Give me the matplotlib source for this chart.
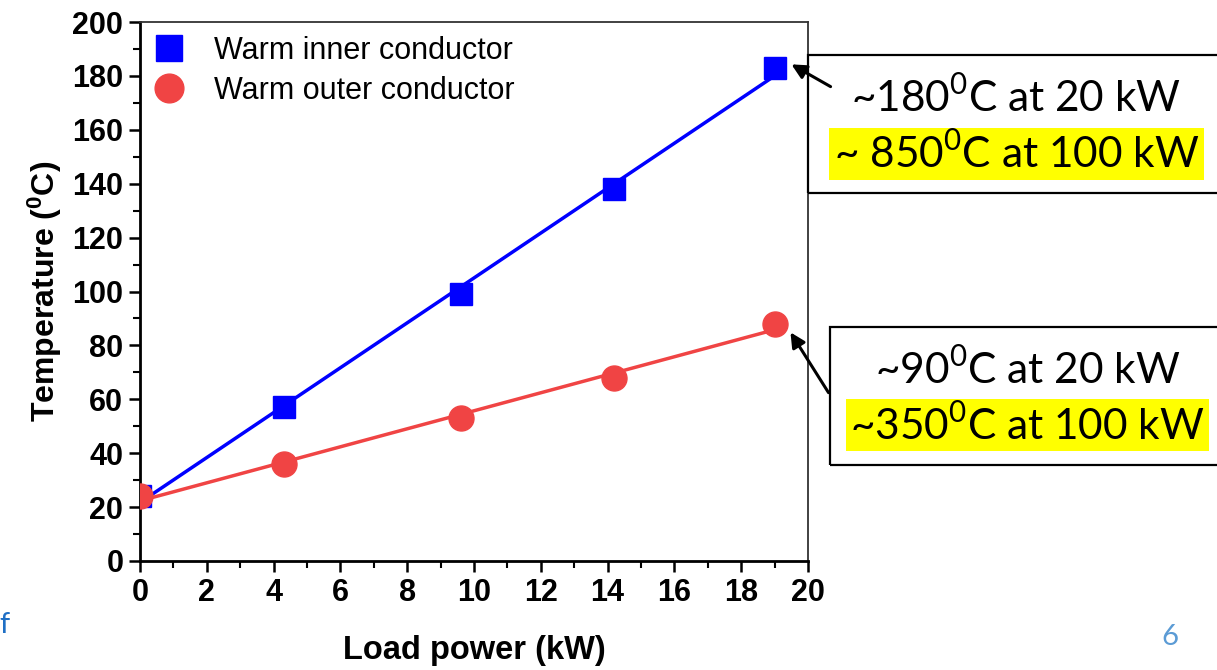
import matplotlib.pyplot as plt
import matplotlib.patches as patches
import numpy as np

plt.rcParams['font.family'] = ['Liberation Sans', 'DejaVu Sans']
plt.rcParams['mathtext.fontset'] = 'custom'
plt.rcParams['mathtext.rm'] = 'Lato'
plt.rcParams['mathtext.bf'] = 'Liberation Sans:bold'

# data
load_kw = [0, 4.3, 9.6, 14.2, 19]
inner_temp = [24, 57, 99, 138, 183]
outer_temp = [24, 36, 53, 68, 88]

inner_note = ["~180$^0$C at 20 kW", "~ 850$^0$C at 100 kW"]
outer_note = ["~90$^0$C at 20 kW", "~350$^0$C at 100 kW"]

blue = "#0000FF"
red = "#F04444"

fig = plt.figure(figsize=(12.17, 6.7), dpi=100)
ax = fig.add_axes([140 / 1217, 1 - 561 / 670, 668 / 1217, 539 / 670])

# linear fits drawn through the points
xs = np.array([min(load_kw), max(load_kw)])
for temps, c in [(inner_temp, blue), (outer_temp, red)]:
    k, b = np.polyfit(load_kw, temps, 1)
    ax.plot(xs, k * xs + b, color=c, lw=2.5, zorder=2)

ax.plot(load_kw, inner_temp, "s", color=blue, ms=16, label="Warm inner conductor", zorder=3)
ax.plot(load_kw, outer_temp, "o", color=red, ms=18, label="Warm outer conductor", zorder=3)

ax.set_xlim(0, 20)
ax.set_ylim(0, 200)
ax.set_xticks(np.arange(0, 21, 2))
ax.set_xticks(np.arange(1, 20, 2), minor=True)
ax.set_yticks(np.arange(0, 201, 20))
ax.set_yticks(np.arange(10, 200, 20), minor=True)
ax.tick_params(which="major", length=8, width=1.8, labelsize=22, pad=4)
ax.tick_params(which="minor", length=5, width=1.5)
for lab in ax.get_xticklabels() + ax.get_yticklabels():
    lab.set_fontweight("bold")
for s in ["left", "bottom"]:
    ax.spines[s].set_linewidth(2)
for s in ["top", "right"]:
    ax.spines[s].set_linewidth(1.3)
    ax.spines[s].set_color("#333333")

ax.set_xlabel("Load power (kW)", fontsize=23.5, fontweight="bold", labelpad=20)
ax.set_ylabel(r"Temperature ($\mathbf{^0}$C)", fontsize=23, fontweight="bold", labelpad=6)

ax.legend(loc="upper left", bbox_to_anchor=(-0.043, 1.025), frameon=False, fontsize=22,
          handletextpad=0.45, labelspacing=0.32, borderaxespad=0.5, markerscale=1.15)


def fx(px):
    return px / 1217


def fy(py):
    return 1 - py / 670


# annotation boxes outside the axes
for (x0, y0, y1), note, l1, l2, arrow in [
    ((808, 55, 193), inner_note, 97, 154, ((833, 88), (789, 63))),
    ((830, 327, 465), outer_note, 369, 425, ((830, 395), (789, 330))),
]:
    fig.add_artist(patches.Rectangle((fx(x0), fy(y1)), fx(1217 - x0 + 10), (y1 - y0) / 670,
                                     transform=fig.transFigure, fill=False, ec="black", lw=1.6))
    cx = (x0 + 1217) / 2 + 4
    fig.text(fx(cx), fy(l1), note[0], fontsize=30.5, family="Lato", ha="center", va="center")
    fig.text(fx(cx), fy(l2), note[1], fontsize=30.5, family="Lato", ha="center", va="center",
             bbox=dict(facecolor="#FFFF00", edgecolor="none", pad=3.5))
    fig.add_artist(patches.FancyArrowPatch((fx(arrow[0][0]), fy(arrow[0][1])),
                                           (fx(arrow[1][0]), fy(arrow[1][1])),
                                           transform=fig.transFigure, arrowstyle="-|>",
                                           mutation_scale=22, lw=2.2, color="black"))

fig.text(fx(-1), fy(625), "f", fontsize=21, color="#1F6FC5", family="Lato", va="center")
fig.text(fx(1170), fy(637), "6", fontsize=21, color="#5B9BD5", family="Lato", ha="center", va="center")

plt.savefig("out.png", dpi=100)
